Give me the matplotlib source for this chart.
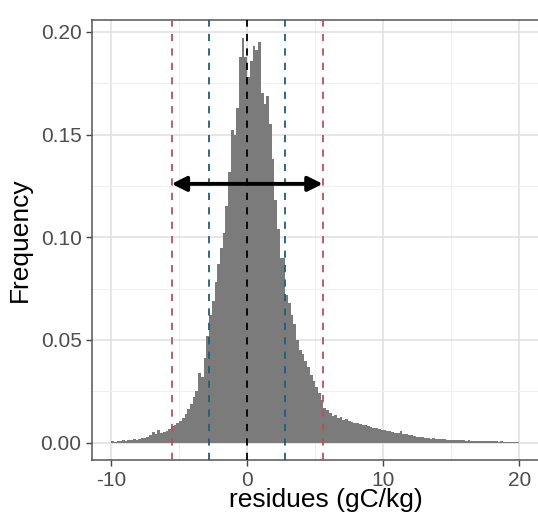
import numpy as np
import matplotlib
matplotlib.use("Agg")
import matplotlib.pyplot as plt

plt.rcParams['font.family'] = ['Liberation Sans', 'DejaVu Sans']

# histogram of residues, bin width 0.2 from -10 to 20 (density)
bin_lo = -10
bin_hi = 20
density = [
    0.0008, 0.0005, 0.0010, 0.0008, 0.0012,   # -10 .. -9
    0.0010, 0.0015, 0.0012, 0.0018, 0.0014,   # -9 .. -8
    0.0020, 0.0025, 0.0022, 0.0030, 0.0035,   # -8 .. -7
    0.0050, 0.0042, 0.0060, 0.0045, 0.0050,   # -7 .. -6
    0.0055, 0.0065, 0.0080, 0.0085, 0.0095,   # -6 .. -5
    0.0105, 0.0120, 0.0140, 0.0165, 0.0190,   # -5 .. -4
    0.0220, 0.0250, 0.0340, 0.0320, 0.0410,   # -4 .. -3
    0.0520, 0.0620, 0.0690, 0.0780, 0.0870,   # -3 .. -2
    0.0950, 0.1020, 0.1150, 0.1320, 0.1520,   # -2 .. -1
    0.1500, 0.1630, 0.1880, 0.1970, 0.1880,   # -1 .. 0
    0.1780, 0.1860, 0.1930, 0.1910, 0.1950,   # 0 .. 1
    0.1700, 0.1650, 0.1690, 0.1550, 0.1380,   # 1 .. 2
    0.1180, 0.1040, 0.0900, 0.0900, 0.0720,   # 2 .. 3
    0.0680, 0.0620, 0.0580, 0.0500, 0.0450,   # 3 .. 4
    0.0430, 0.0400, 0.0370, 0.0330, 0.0300,   # 4 .. 5
    0.0270, 0.0240, 0.0210, 0.0170, 0.0160,   # 5 .. 6
    0.0145, 0.0130, 0.0135, 0.0120, 0.0125,   # 6 .. 7
    0.0110, 0.0115, 0.0105, 0.0100, 0.0098,   # 7 .. 8
    0.0095, 0.0090, 0.0085, 0.0088, 0.0080,   # 8 .. 9
    0.0075, 0.0072, 0.0070, 0.0065, 0.0063,   # 9 .. 10
    0.0060, 0.0055, 0.0058, 0.0050, 0.0048,   # 10 .. 11
    0.0045, 0.0058, 0.0042, 0.0040, 0.0038,   # 11 .. 12
    0.0035, 0.0033, 0.0030, 0.0028, 0.0026,   # 12 .. 13
    0.0024, 0.0022, 0.0020, 0.0021, 0.0018,   # 13 .. 14
    0.0017, 0.0016, 0.0018, 0.0015, 0.0014,   # 14 .. 15
    0.0013, 0.0015, 0.0012, 0.0011, 0.0012,   # 15 .. 16
    0.0010, 0.0011, 0.0009, 0.0010, 0.0008,   # 16 .. 17
    0.0008, 0.0009, 0.0007, 0.0008, 0.0006,   # 17 .. 18
    0.0007, 0.0006, 0.0005, 0.0006, 0.0005,   # 18 .. 19
    0.0005, 0.0004, 0.0005, 0.0003, 0.0004,   # 19 .. 20
]

# reference lines: mean and +-1 / +-2 sd
vlines = [-5.55, -2.8, 0.0, 2.8, 5.55]
vline_colors = ['#b5525c', '#1d5f80', 'black', '#1d5f80', '#b5525c']
arrow_from = -5.55
arrow_to = 5.55
arrow_y = 0.126

x_ticks = [-10, 0, 10, 20]
y_ticks = [0.00, 0.05, 0.10, 0.15, 0.20]

fig = plt.figure(figsize=(5.38, 5.17), dpi=100)
# panel runs a little past the right edge (image is cropped there)
ax = fig.add_axes([0.171, 0.110, 0.835, 0.851])

edges = np.linspace(bin_lo, bin_hi, len(density) + 1)
ax.stairs(density, edges, fill=True, color='#7b7b7b', baseline=0, zorder=2)

for x, c in zip(vlines, vline_colors):
    ax.axvline(x, color=c, lw=1.3, linestyle=(0, (4, 4)), zorder=3)

ax.annotate('', xy=(arrow_to, arrow_y), xytext=(arrow_from, arrow_y),
            arrowprops=dict(arrowstyle='<|-|>', lw=2.8, color='black',
                            mutation_scale=22, shrinkA=0, shrinkB=0),
            zorder=4)

ax.set_xlim(-11.4, 21.6)
ax.set_ylim(-0.0085, 0.2057)
ax.set_xticks(x_ticks)
ax.set_xticklabels([str(t) for t in x_ticks])
ax.set_yticks(y_ticks)
ax.set_yticklabels(['%.2f' % t for t in y_ticks])
ax.set_xticks([-5, 5, 15], minor=True)
ax.set_yticks([0.025, 0.075, 0.125, 0.175], minor=True)

ax.grid(True, which='major', color='#e2e2e2', lw=1.2, zorder=0)
ax.grid(True, which='minor', color='#efefef', lw=0.7, zorder=0)
ax.set_axisbelow(True)

ax.tick_params(which='major', length=4, width=1, color='#444444',
               labelsize=15, labelcolor='#4d4d4d')
ax.tick_params(which='minor', length=0)
for s in ax.spines.values():
    s.set_color('#555555')
    s.set_linewidth(1.1)

ax.set_xlabel('residues (gC/kg)', fontsize=19)
ax.xaxis.set_label_coords(0.521, -0.064)
ax.set_ylabel('Frequency', fontsize=19, labelpad=6)

fig.savefig('out.png', dpi=100)
